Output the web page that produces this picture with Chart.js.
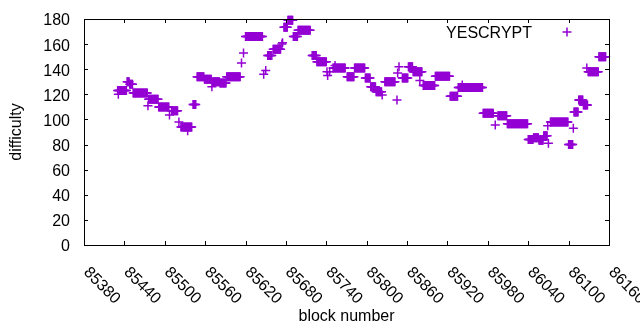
<!DOCTYPE html>
<html>
<head>
<meta charset="utf-8">
<script src="https://cdn.jsdelivr.net/npm/chart.js@4.4.1/dist/chart.umd.min.js"></script>
<style>
html, body { margin: 0; padding: 0; background: #fff; }
canvas { display: block; }
</style>
</head>
<body>
<canvas id="myChart" width="640" height="330"></canvas>
<script>
// difficulty runs (block from, block to, difficulty)
var runStart = [85430, 85444, 85448, 85453, 85476, 85491, 85510, 85524, 85542, 85548, 85559, 85571, 85582, 85592,
  85620, 85653, 85661, 85677, 85683, 85691, 85698, 85719, 85726, 85750, 85771, 85782, 85798, 85806, 85814,
  85827, 85853, 85862, 85869, 85884, 85902, 85924, 85936, 85973, 85995, 86009, 86040, 86048, 86056, 86063,
  86073, 86100, 86108, 86115, 86122, 86129, 86145]
var runEnd = [85443, 85447, 85452, 85474, 85490, 85506, 85519, 85540, 85546, 85558, 85569, 85581, 85591, 85612,
  85645, 85659, 85672, 85682, 85690, 85697, 85716, 85725, 85740, 85768, 85781, 85797, 85805, 85813, 85822,
  85842, 85861, 85868, 85882, 85901, 85923, 85935, 85972, 85988, 86008, 86039, 86047, 86055, 86062, 86068,
  86099, 86106, 86114, 86121, 86128, 86144, 86155]
var runValue = [123, 130, 128, 121, 116, 110, 107, 94, 112, 134, 132, 130, 129, 134,
  166, 151, 156, 173.5, 179, 166, 171, 151, 146, 141, 134, 141, 133, 126, 122,
  130, 133, 142, 138, 127, 134.5, 118.5, 125.5, 105, 103, 96.5, 84, 85.5, 83.5, 87,
  98, 80, 106, 115.5, 111.5, 138, 150]

// odd single blocks
var singleBlock = [85431, 85475, 85507, 85521, 85534, 85570, 85614, 85617, 85647, 85650, 85674, 85675,
  85741, 85742, 85745, 85753, 85823, 85845, 85846, 85848, 85879, 85942, 85991, 86069, 86070, 86107, 86127]
var singleValue = [120, 111, 103.5, 98, 91, 126, 145, 153, 136, 139, 160, 161,
  138, 135, 138, 143, 119.5, 115.5, 137, 142, 131, 127.5, 95.6, 95, 81, 93, 141]

var seriesLabel = 'YESCRYPT'
var xMin = 85380, xMax = 86160, xStep = 60
var yMin = 0, yMax = 180, yStep = 20

var points = []
for (let i = 0; i < runStart.length; i++) {
  for (let b = runStart[i]; b <= runEnd[i]; b++) {
    points.push({x: b, y: runValue[i]})
  }
}
for (let i = 0; i < singleBlock.length; i++) {
  points.push({x: singleBlock[i], y: singleValue[i]})
}

var FONT = '"Liberation Sans", Arial, sans-serif'
var PURPLE = 'rgb(148, 0, 211)'

function noOverhang(s) {
  s.paddingTop = 0
  s.paddingBottom = 0
  s.paddingLeft = 0
  s.paddingRight = 0
}

// gnuplot style box with inward ticks
const frameTicks = {
  id: 'frameTicks',
  afterDatasetsDraw(chart) {
    const ctx = chart.ctx, a = chart.chartArea
    const xs = chart.scales.x, ys = chart.scales.y
    ctx.save()
    ctx.strokeStyle = '#000'
    ctx.lineWidth = 1
    ctx.beginPath()
    xs.ticks.forEach(t => {
      const px = Math.round(xs.getPixelForValue(t.value)) + 0.5
      ctx.moveTo(px, a.bottom); ctx.lineTo(px, a.bottom - 4)
      ctx.moveTo(px, a.top); ctx.lineTo(px, a.top + 4)
    })
    ys.ticks.forEach(t => {
      const py = Math.round(ys.getPixelForValue(t.value)) + 0.5
      ctx.moveTo(a.left, py); ctx.lineTo(a.left + 4, py)
      ctx.moveTo(a.right, py); ctx.lineTo(a.right - 4, py)
    })
    ctx.stroke()
    ctx.strokeRect(Math.round(a.left) + 0.5, Math.round(a.top) + 0.5,
      Math.round(a.right - a.left), Math.round(a.bottom - a.top))
    ctx.restore()
  },
  afterDraw(chart) {
    const ctx = chart.ctx, a = chart.chartArea, xs = chart.scales.x
    ctx.save()
    ctx.fillStyle = '#000'
    ctx.font = '16px ' + FONT
    ctx.textAlign = 'left'
    ctx.textBaseline = 'middle'
    xs.ticks.forEach(t => {
      const px = xs.getPixelForValue(t.value)
      ctx.save()
      ctx.translate(px + 2, a.bottom + 25)
      ctx.rotate(Math.PI / 4)
      ctx.fillText(String(t.value), 0, 0)
      ctx.restore()
    })
    // key, text right aligned then the sample point
    ctx.textAlign = 'right'
    ctx.fillText(seriesLabel, 532, 34)
    ctx.strokeStyle = PURPLE
    ctx.lineWidth = 1.5
    ctx.beginPath()
    ctx.moveTo(562.5, 32); ctx.lineTo(571.5, 32)
    ctx.moveTo(567, 27.5); ctx.lineTo(567, 36.5)
    ctx.stroke()
    ctx.restore()
  }
}

const config = {
  type: 'scatter',
  data: {
    datasets: [{
      label: seriesLabel,
      data: points,
      pointStyle: 'cross',
      pointRadius: 4.5,
      pointBorderWidth: 1.5,
      borderColor: PURPLE,
      backgroundColor: PURPLE,
      clip: false
    }]
  },
  options: {
    responsive: false,
    devicePixelRatio: 1,
    animation: false,
    events: [],
    layout: {padding: {top: 19, right: 31, left: 0, bottom: 0}},
    plugins: {
      legend: {display: false},
      tooltip: {enabled: false}
    },
    scales: {
      x: {
        type: 'linear',
        min: xMin,
        max: xMax,
        grid: {display: false, drawTicks: false},
        border: {display: false},
        ticks: {stepSize: xStep, display: false},
        title: {
          display: true,
          text: 'block number',
          color: '#000',
          font: {family: FONT, size: 16},
          padding: {top: 0, bottom: 4}
        },
        afterFit: function (s) { s.height = 85; noOverhang(s) }
      },
      y: {
        type: 'linear',
        min: yMin,
        max: yMax,
        grid: {display: false, drawTicks: false},
        border: {display: false},
        ticks: {stepSize: yStep, padding: 14, labelOffset: 2, color: '#000', font: {family: FONT, size: 16}},
        title: {
          display: true,
          text: 'difficulty',
          color: '#000',
          font: {family: FONT, size: 16},
          padding: {top: 7, bottom: 0}
        },
        afterFit: function (s) { s.width = 84; noOverhang(s) }
      }
    }
  },
  plugins: [frameTicks]
}

const myChart = new Chart(document.getElementById('myChart'), config)
</script>
</body>
</html>
